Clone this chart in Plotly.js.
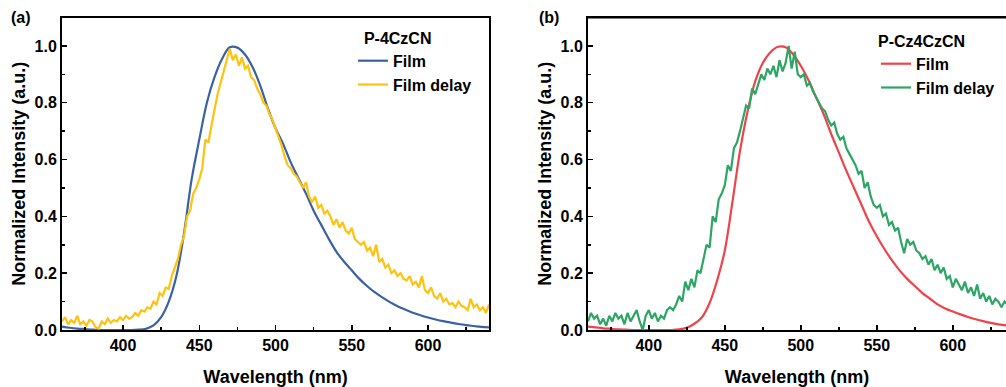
<!DOCTYPE html>
<html>
<head>
<meta charset="utf-8">
<script src="https://cdn.plot.ly/plotly-3.0.1.min.js"></script>
<style>html,body{margin:0;padding:0;background:#fff;overflow:hidden}#chart{width:1006px;height:387px}</style>
</head>
<body>
<div id="chart"></div>
<script>
// ---- Panel (a): P-4CzCN ----
const filmA_wl = [360,365,370,375,380,385,390,395,400,405,410,415,420,425,430,435,440,445,450,455,460,465,470,475,480,485,490,495,500,505,510,515,520,525,530,535,540,545,550,555,560,565,570,575,580,585,590,595,600,605,610,615,620,625,630,635,640];
const filmA_val = [0.012,0.008,0.005,0.003,0.001,0,0,0,0,0,0.001,0.004,0.016,0.045,0.1,0.19,0.34,0.53,0.67,0.8,0.89,0.955,0.995,0.994,0.97,0.925,0.86,0.78,0.71,0.655,0.59,0.535,0.48,0.42,0.37,0.32,0.275,0.24,0.21,0.18,0.155,0.133,0.115,0.098,0.084,0.072,0.061,0.052,0.044,0.037,0.031,0.026,0.021,0.017,0.014,0.011,0.009];

// delayed emission sampled every 2 nm from 360 nm
const delayStart = 360, delayStep = 2;
const delayA_val = [0.03,0.045,0.02,0.035,0.025,0.05,0.02,0.03,0.015,0.035,0.03,0.01,0.005,0.03,0.02,0.04,0.025,0.035,0.03,0.045,
0.035,0.05,0.04,0.045,0.06,0.05,0.07,0.065,0.08,0.075,0.1,0.09,0.13,0.12,0.15,0.145,0.19,0.22,0.25,0.3,
0.33,0.4,0.42,0.48,0.5,0.53,0.57,0.67,0.66,0.72,0.78,0.83,0.87,0.91,0.94,0.99,0.95,0.97,0.93,0.96,
0.92,0.93,0.89,0.88,0.85,0.83,0.8,0.79,0.76,0.74,0.71,0.68,0.65,0.61,0.58,0.57,0.55,0.54,0.52,0.5,
0.52,0.47,0.45,0.47,0.43,0.44,0.41,0.42,0.4,0.37,0.39,0.36,0.38,0.35,0.34,0.36,0.32,0.31,0.3,0.31,
0.28,0.29,0.26,0.3,0.24,0.25,0.22,0.23,0.2,0.21,0.19,0.2,0.18,0.175,0.19,0.16,0.17,0.15,0.19,0.14,
0.13,0.15,0.12,0.11,0.13,0.1,0.11,0.09,0.095,0.08,0.1,0.085,0.08,0.07,0.11,0.08,0.09,0.07,0.08,0.06,0.09];

// ---- Panel (b): P-Cz4CzCN ----
const filmB_wl = [360,365,370,375,380,385,390,395,400,405,410,415,420,425,430,435,440,445,450,455,460,465,470,475,480,485,490,495,500,505,510,515,520,525,530,535,540,545,550,555,560,565,570,575,580,585,590,595,600,605,610,615,620,625,630,635,640];
const filmB_val = [0.012,0.009,0.006,0.004,0.002,0.001,0,0,0,0,0,0,0.002,0.008,0.022,0.045,0.095,0.175,0.28,0.45,0.63,0.77,0.875,0.94,0.978,0.997,0.995,0.97,0.93,0.88,0.82,0.76,0.69,0.625,0.56,0.5,0.44,0.38,0.33,0.285,0.245,0.21,0.18,0.155,0.13,0.11,0.09,0.076,0.065,0.055,0.046,0.038,0.031,0.025,0.02,0.016,0.013];

const delayB_val = [0.03,0.06,0.04,0.05,0.02,0.04,0.015,0.05,0.03,0.06,0.04,0.05,0.02,0.06,0.03,0.05,0.07,0.03,0.0,0.05,
0.07,0.04,0.06,0.03,0.05,0.04,0.07,0.08,0.07,0.09,0.12,0.1,0.17,0.14,0.18,0.15,0.21,0.2,0.25,0.3,
0.29,0.4,0.38,0.46,0.48,0.51,0.58,0.56,0.64,0.66,0.7,0.74,0.79,0.78,0.85,0.83,0.87,0.9,0.88,0.92,
0.9,0.93,0.89,0.95,0.91,0.94,1.0,0.92,0.98,0.9,0.89,0.9,0.86,0.87,0.84,0.82,0.8,0.78,0.77,0.74,
0.72,0.73,0.69,0.67,0.68,0.64,0.62,0.6,0.58,0.55,0.56,0.5,0.52,0.47,0.44,0.43,0.44,0.4,0.41,0.37,
0.38,0.35,0.36,0.31,0.27,0.32,0.3,0.31,0.28,0.27,0.25,0.26,0.23,0.25,0.21,0.23,0.2,0.22,0.18,0.19,
0.15,0.18,0.16,0.14,0.17,0.13,0.15,0.12,0.16,0.11,0.13,0.1,0.12,0.09,0.11,0.1,0.08,0.1,0.09,0.07,0.08];

const xTickVals = [400,450,500,550,600];
const yTickVals = [0,0.2,0.4,0.6,0.8,1.0];
const yTickText = ['0.0','0.2','0.4','0.6','0.8','1.0'];

const wl = (vals) => vals.map((_, i) => delayStart + i * delayStep);

const FONT = 'Liberation Sans, Arial, Helvetica, sans-serif';
const traces = [
  {x: filmA_wl, y: filmA_val, name: 'Film', type: 'scatter', mode: 'lines', line: {color: '#3a62a2', width: 2.2, shape: 'spline'}, xaxis: 'x', yaxis: 'y', legend: 'legend'},
  {x: wl(delayA_val), y: delayA_val, name: 'Film delay', type: 'scatter', mode: 'lines', line: {color: '#ffc20e', width: 2.2}, xaxis: 'x', yaxis: 'y', legend: 'legend'},
  {x: filmB_wl, y: filmB_val, name: 'Film', type: 'scatter', mode: 'lines', line: {color: '#f04349', width: 2.2, shape: 'spline'}, xaxis: 'x2', yaxis: 'y2', legend: 'legend2'},
  {x: wl(delayB_val), y: delayB_val, name: 'Film delay', type: 'scatter', mode: 'lines', line: {color: '#2ca565', width: 2.2}, xaxis: 'x2', yaxis: 'y2', legend: 'legend2'}
];

const tickFont = {family: FONT, size: 16, color: '#000', weight: 'bold'};
const titleFont = {family: FONT, size: 18, color: '#000', weight: 'bold'};
function xAxis(domain, range, anchor) {
  return {domain: domain, range: range, anchor: anchor, showline: true, linecolor: '#000', linewidth: 2, mirror: true,
    ticks: 'inside', ticklen: 5, tickwidth: 1.5, tickcolor: '#000', tickvals: xTickVals, tickfont: tickFont,
    minor: {dtick: 25, tick0: 0, ticks: 'inside', ticklen: 3, tickwidth: 1.5, tickcolor: '#000'},
    showgrid: false, zeroline: false, fixedrange: true,
    title: {text: 'Wavelength (nm)', font: titleFont, standoff: 18}};
}
function yAxis(domain, anchor, mirror) {
  return {domain: domain, range: [0, 1.1], anchor: anchor, showline: true, linecolor: '#000', linewidth: 2, mirror: mirror,
    ticks: 'inside', ticklen: 5, tickwidth: 1.5, tickcolor: '#000', tickvals: yTickVals, ticktext: yTickText, tickfont: tickFont,
    minor: {dtick: 0.1, tick0: 0, ticks: 'inside', ticklen: 3, tickwidth: 1.5, tickcolor: '#000'},
    showgrid: false, zeroline: false, fixedrange: true,
    title: {text: 'Normalized Intensity (a.u.)', font: titleFont, standoff: 4}};
}
const yDom = [1 - 330/387, 1 - 17.5/387];
const legFont = {family: FONT, size: 16, color: '#000', weight: 'bold'};
const layout = {
  width: 1006, height: 387,
  margin: {l: 0, r: 0, t: 0, b: 0},
  paper_bgcolor: '#fff', plot_bgcolor: '#fff',
  showlegend: true,
  xaxis: xAxis([62/1006, 489/1006], [360, 640], 'y'),
  yaxis: yAxis(yDom, 'x', true),
  xaxis2: xAxis([588/1006, 1], [360, 635], 'y2'),
  yaxis2: yAxis(yDom, 'x2', false),
  legend: {x: 353/1006, y: 1 - 23/387, xanchor: 'left', yanchor: 'top', bgcolor: 'rgba(0,0,0,0)',
    font: legFont, tracegroupgap: 0,
    title: {text: '\u00a0\u00a0P-4CzCN', font: legFont, side: 'top'}},
  legend2: {x: 876/1006, y: 1 - 26/387, xanchor: 'left', yanchor: 'top', bgcolor: 'rgba(0,0,0,0)',
    font: legFont, tracegroupgap: 0,
    title: {text: 'P-Cz4CzCN', font: legFont, side: 'top'}},
  shapes: [
    {type: 'line', xref: 'x2 domain', yref: 'y2 domain', x0: 0, x1: 1, y0: 1, y1: 1, line: {color: '#000', width: 2}}
  ],
  annotations: [
    {text: '(a)', xref: 'paper', yref: 'paper', x: 9/1006, y: 1 - 17/387, xanchor: 'left', yanchor: 'middle', showarrow: false,
      font: legFont},
    {text: '(b)', xref: 'paper', yref: 'paper', x: 537/1006, y: 1 - 17/387, xanchor: 'left', yanchor: 'middle', showarrow: false,
      font: legFont}
  ]
};
Plotly.newPlot('chart', traces, layout, {displayModeBar: false, staticPlot: true});
</script>
</body>
</html>
